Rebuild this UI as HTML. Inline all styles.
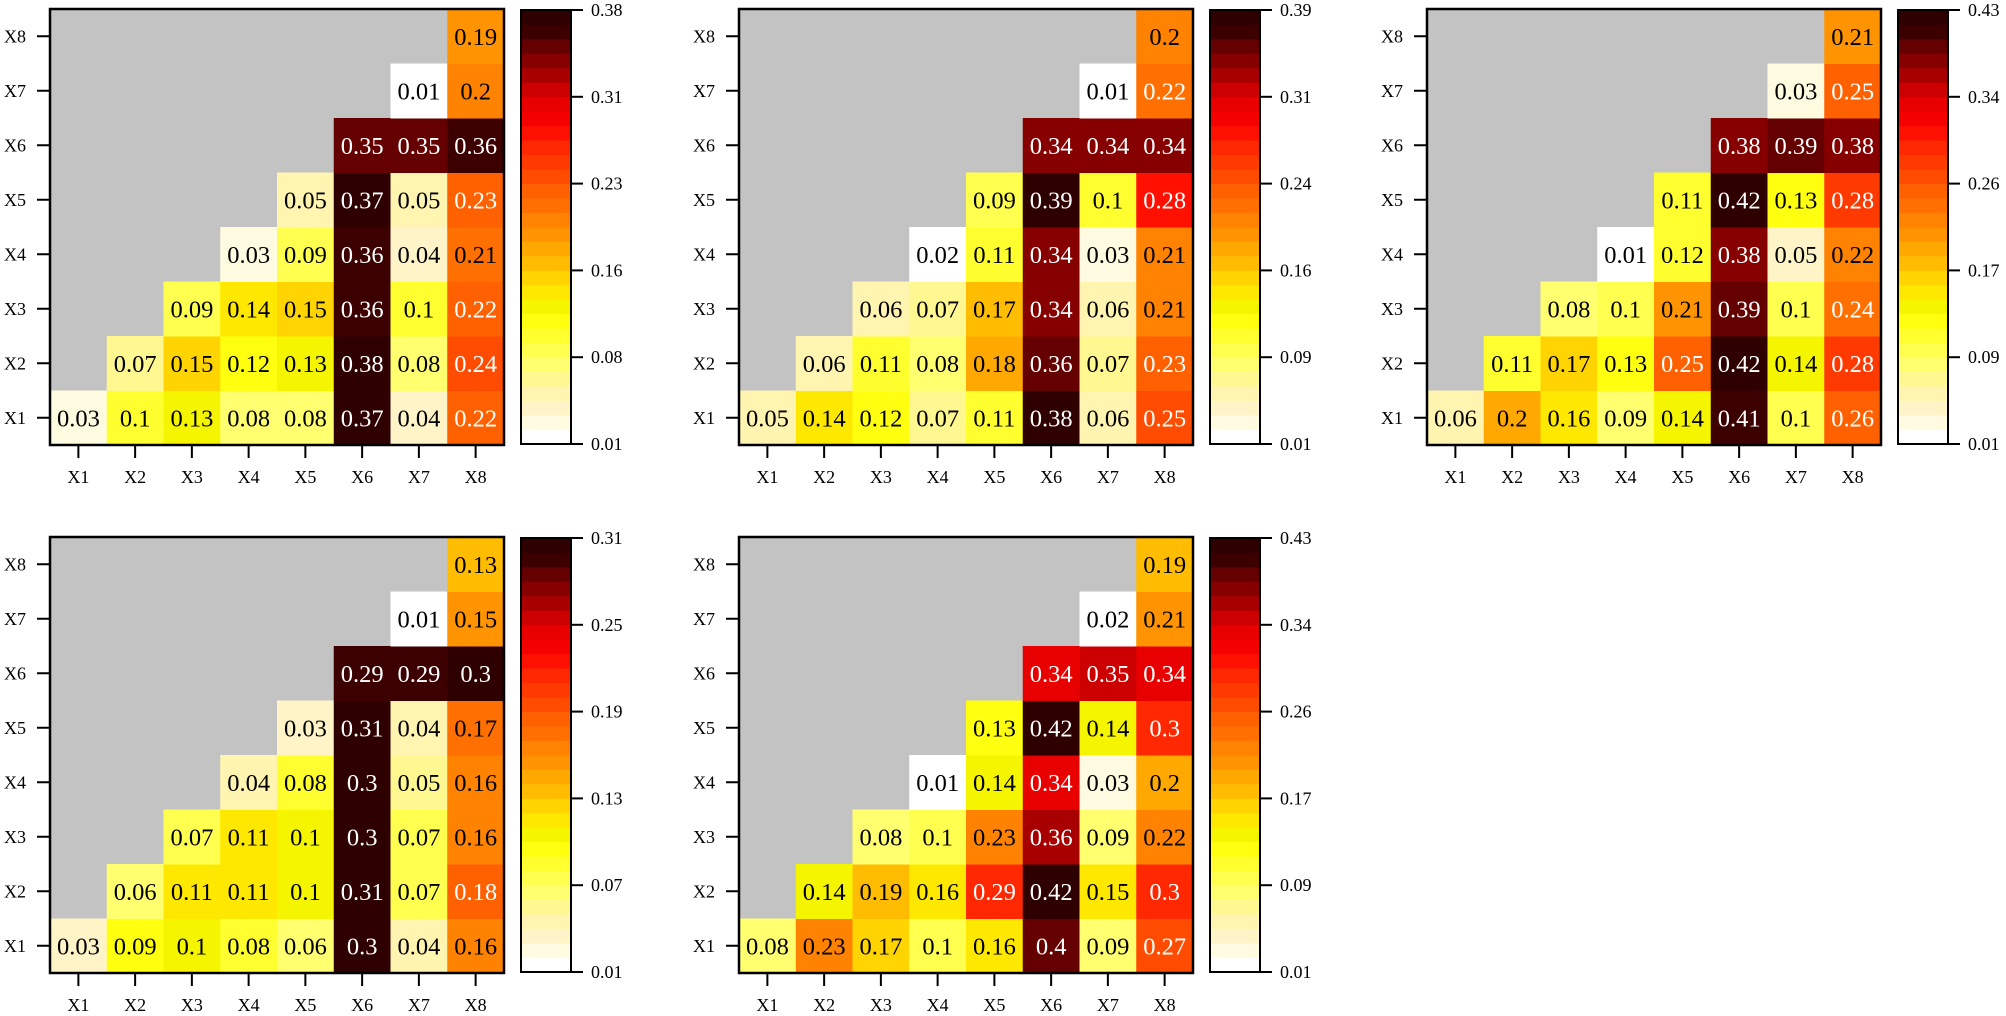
<!DOCTYPE html>
<html><head><meta charset="utf-8">
<style>
html,body{margin:0;padding:0;background:#fff;}
svg{display:block;font-family:"Liberation Serif",serif;}
</style></head>
<body>
<svg id="s" width="2006" height="1016" viewBox="0 0 2006 1016" xmlns="http://www.w3.org/2000/svg"></svg>
<script>
const panels=[
 {ox:0,oy:0,min:0.01,max:0.38,cb:["0.38","0.31","0.23","0.16","0.08","0.01"],d:[
 [0.03,0.1,0.13,0.08,0.08,0.37,0.04,0.22],[0.07,0.15,0.12,0.13,0.38,0.08,0.24],[0.09,0.14,0.15,0.36,0.1,0.22],[0.03,0.09,0.36,0.04,0.21],[0.05,0.37,0.05,0.23],[0.35,0.35,0.36],[0.01,0.2],[0.19]]},
 {ox:689,oy:0,min:0.01,max:0.39,cb:["0.39","0.31","0.24","0.16","0.09","0.01"],d:[
 [0.05,0.14,0.12,0.07,0.11,0.38,0.06,0.25],[0.06,0.11,0.08,0.18,0.36,0.07,0.23],[0.06,0.07,0.17,0.34,0.06,0.21],[0.02,0.11,0.34,0.03,0.21],[0.09,0.39,0.1,0.28],[0.34,0.34,0.34],[0.01,0.22],[0.2]]},
 {ox:1377,oy:0,min:0.01,max:0.43,cb:["0.43","0.34","0.26","0.17","0.09","0.01"],d:[
 [0.06,0.2,0.16,0.09,0.14,0.41,0.1,0.26],[0.11,0.17,0.13,0.25,0.42,0.14,0.28],[0.08,0.1,0.21,0.39,0.1,0.24],[0.01,0.12,0.38,0.05,0.22],[0.11,0.42,0.13,0.28],[0.38,0.39,0.38],[0.03,0.25],[0.21]]},
 {ox:0,oy:528,min:0.01,max:0.31,cb:["0.31","0.25","0.19","0.13","0.07","0.01"],d:[
 [0.03,0.09,0.1,0.08,0.06,0.3,0.04,0.16],[0.06,0.11,0.11,0.1,0.31,0.07,0.18],[0.07,0.11,0.1,0.3,0.07,0.16],[0.04,0.08,0.3,0.05,0.16],[0.03,0.31,0.04,0.17],[0.29,0.29,0.3],[0.01,0.15],[0.13]]},
 {ox:689,oy:528,min:0.01,max:0.43,cb:["0.43","0.34","0.26","0.17","0.09","0.01"],d:[
 [0.08,0.23,0.17,0.1,0.16,0.4,0.09,0.27],[0.14,0.19,0.16,0.29,0.42,0.15,0.3],[0.08,0.1,0.23,0.36,0.09,0.22],[0.01,0.14,0.34,0.03,0.2],[0.13,0.42,0.14,0.3],[0.34,0.35,0.34],[0.02,0.21],[0.19]]}
];
const bands=["#ffffff","#fffbe0","#fff4c8","#fff4b0","#fff890","#ffff70","#ffff50","#ffff30","#ffff10","#f5f500",
"#ffe800","#ffd400","#ffbc00","#ffa800","#ff9400","#ff8200","#ff7000","#ff6000","#ff4c00","#ff3a00",
"#ff2800","#ff1000","#f40000","#e80000","#cc0000","#a80000","#860000","#640000","#3c0000","#2e0000"];
const N=30;
function band(f){const k=Math.max(0,Math.min(N-1,Math.floor(f*N+1e-9)));return bands[k];}
let h='';
for(const p of panels){
 const L=p.ox+50,T=p.oy+9,W=454,H=436,cw=W/8,ch=H/8;
 h+=`<rect x="${L}" y="${T}" width="${W}" height="${H}" fill="#c3c3c3"/>`;
 p.d.forEach((row,r)=>{row.forEach((v,k)=>{const c=r+k;const x=L+c*cw,y=T+H-(r+1)*ch;const f=(v-p.min)/(p.max-p.min);
  h+=`<rect x="${x}" y="${y}" width="${cw+0.5}" height="${ch+0.5}" fill="${band(f)}"/>`;
  h+=`<text x="${x+cw/2}" y="${y+ch/2+8.5}" font-size="24.5" text-anchor="middle" fill="${f>0.545?'#fff':'#000'}">${v}</text>`;});});
 h+=`<rect x="${L}" y="${T}" width="${W}" height="${H}" fill="none" stroke="#000" stroke-width="2.5"/>`;
 for(let i=0;i<8;i++){const cx=L+cw*(i+0.5),cy=T+H-ch*(i+0.5);
  h+=`<line x1="${cx}" y1="${T+H}" x2="${cx}" y2="${T+H+13}" stroke="#000" stroke-width="2"/>`;
  h+=`<text x="${cx}" y="${T+H+38}" font-size="18" text-anchor="middle">X${i+1}</text>`;
  h+=`<line x1="${L-13}" y1="${cy}" x2="${L}" y2="${cy}" stroke="#000" stroke-width="2"/>`;
  h+=`<text x="${L-24}" y="${cy+6}" font-size="18" text-anchor="end">X${i+1}</text>`;}
 const cx0=p.ox+521,cT=p.oy+10,cH=434,bh=cH/N;
 for(let k=0;k<N;k++){h+=`<rect x="${cx0}" y="${cT+cH-(k+1)*bh}" width="50" height="${bh+0.4}" fill="${bands[k]}"/>`;}
 h+=`<rect x="${cx0}" y="${cT}" width="50" height="${cH}" fill="none" stroke="#000" stroke-width="2"/>`;
 p.cb.forEach((t,i)=>{const y=cT+cH*i/5;h+=`<line x1="${cx0+50}" y1="${y}" x2="${cx0+62}" y2="${y}" stroke="#000" stroke-width="2"/>`;
  h+=`<text x="${cx0+70}" y="${y+6}" font-size="18">${t}</text>`;});
}
document.getElementById('s').innerHTML=h;
</script>
</body></html>
